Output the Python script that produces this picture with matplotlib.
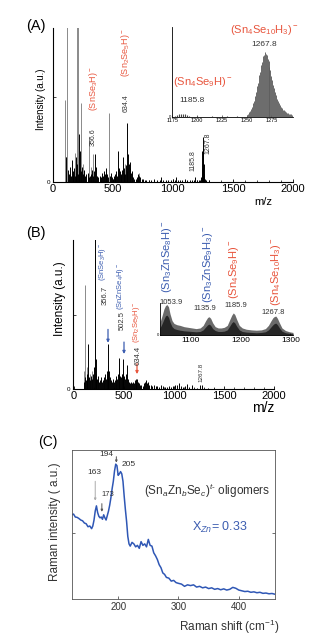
import numpy as np
import matplotlib
matplotlib.use('Agg')
import matplotlib.pyplot as plt
from matplotlib.ticker import MultipleLocator

plt.rcParams['font.family'] = ['Liberation Sans', 'DejaVu Sans']
plt.rcParams['mathtext.fontset'] = 'custom'
plt.rcParams['mathtext.rm'] = 'Liberation Sans'
plt.rcParams['mathtext.it'] = 'Liberation Sans:italic'
plt.rcParams['mathtext.bf'] = 'Liberation Sans:bold'
plt.rcParams['xtick.direction'] = 'in'
plt.rcParams['ytick.direction'] = 'in'

W, H = 322, 638
RED = '#e8553d'
BLUE = '#3c5db0'
NUM = '#333333'

# ---------------- (A) mass spectrum ----------------
gray_A_mz = [103, 108, 122, 186, 200, 214, 233, 255, 303, 320, 339, 469, 600, 720]
gray_A_h = [0.53, 0.16, 1.05, 0.19, 1.05, 1.05, 0.51, 0.12, 0.29, 0.10, 0.18, 0.45, 0.12, 0.06]

black_A_mz = [110, 130, 138, 145, 152, 158, 165, 172, 178, 185,
              192, 198, 205, 210, 218, 222, 228, 236, 242, 250,
              262, 270, 280, 290, 298, 310, 318, 330, 338, 345,
              353, 360, 368, 378, 390, 400, 410, 418, 425, 432,
              440, 445, 452, 460, 476, 483, 490, 500, 508, 515,
              522, 530, 538, 547, 553, 560, 566, 572, 578, 583,
              590, 595, 602, 608, 615, 622, 628, 633, 640, 644,
              650, 656, 663, 670, 680, 690, 700, 708, 714, 722,
              730, 740, 752, 765, 780, 800, 820, 845, 870, 890,
              905, 920, 940, 960, 985, 1000, 1015, 1025, 1040, 1060,
              1080, 1100, 1120, 1140, 1160, 1175, 1185, 1200, 1215, 1230,
              1238, 1242, 1246, 1250, 1254, 1258, 1262, 1268, 1280, 1300]
black_A_h = [0.16, 0.08, 0.05, 0.10, 0.04, 0.14, 0.05, 0.07, 0.09, 0.04,
             0.16, 0.06, 0.12, 0.05, 0.08, 0.31, 0.20, 0.07, 0.10, 0.05,
             0.08, 0.04, 0.05, 0.06, 0.03, 0.04, 0.05, 0.08, 0.04, 0.07,
             0.18, 0.10, 0.04, 0.03, 0.04, 0.03, 0.06, 0.04, 0.07, 0.05,
             0.09, 0.06, 0.05, 0.03, 0.04, 0.06, 0.03, 0.02, 0.04, 0.03,
             0.05, 0.07, 0.04, 0.20, 0.09, 0.07, 0.05, 0.04, 0.08, 0.16,
             0.06, 0.09, 0.05, 0.11, 0.07, 0.38, 0.18, 0.12, 0.09, 0.13,
             0.06, 0.07, 0.04, 0.03, 0.02, 0.02, 0.03, 0.02, 0.05, 0.04,
             0.03, 0.02, 0.02, 0.015, 0.01, 0.015, 0.01, 0.02, 0.01, 0.015,
             0.03, 0.01, 0.015, 0.01, 0.015, 0.02, 0.01, 0.035, 0.01, 0.015,
             0.01, 0.02, 0.01, 0.015, 0.01, 0.015, 0.03, 0.01, 0.01, 0.015,
             0.03, 0.09, 0.20, 0.29, 0.22, 0.12, 0.05, 0.02, 0.01, 0.01]

# inset of (A): isotope envelope around 1267.8 and small 1185.8 bump
insA_mz = list(range(1250, 1297))
insA_h = [0.02, 0.03, 0.05, 0.06, 0.09, 0.11, 0.15, 0.17, 0.23, 0.27,
          0.34, 0.38, 0.46, 0.50, 0.58, 0.61, 0.68, 0.69, 0.72, 0.70,
          0.69, 0.64, 0.62, 0.55, 0.52, 0.45, 0.41, 0.35, 0.32, 0.27,
          0.24, 0.20, 0.18, 0.15, 0.13, 0.11, 0.10, 0.08, 0.07, 0.06,
          0.05, 0.045, 0.04, 0.035, 0.03, 0.025, 0.02]
insA_small_mz = [1178, 1180, 1182, 1184, 1186, 1188, 1190, 1192, 1200, 1215, 1230, 1240]
insA_small_h = [0.01, 0.02, 0.03, 0.035, 0.035, 0.03, 0.02, 0.01, 0.008, 0.01, 0.008, 0.01]

# ---------------- (B) mass spectrum ----------------
gray_B_mz = [100, 110, 125, 160, 180, 205, 240, 300, 330, 420, 450, 480]
gray_B_h = [0.12, 0.70, 0.15, 0.10, 0.12, 0.90, 0.08, 0.07, 0.10, 0.08, 0.12, 0.10]

black_B_mz = [95, 105, 115, 125, 133, 143, 150, 160, 170, 180,
              190, 200, 210, 215, 222, 232, 240, 250, 262, 270,
              280, 292, 300, 310, 320, 330, 336, 343, 350, 358,
              365, 375, 385, 395, 405, 415, 425, 435, 445, 453,
              460, 470, 478, 486, 493, 500, 510, 520, 527, 535,
              545, 555, 565, 575, 585, 595, 605, 615, 622, 627,
              635, 645, 655, 670, 685, 700, 710, 720, 728, 740,
              750, 765, 780, 800, 815, 830, 850, 870, 890, 910,
              930, 950, 970, 990, 1010, 1030, 1050, 1070, 1090, 1110,
              1130, 1150, 1180, 1200, 1230, 1260, 1277, 1300, 1340, 1400]
black_B_h = [0.05, 0.08, 0.06, 0.10, 0.07, 0.30, 0.08, 0.06, 0.09, 0.07,
             0.10, 0.15, 1.05, 0.20, 0.10, 0.07, 0.09, 0.05, 0.06, 0.08,
             0.05, 0.06, 0.08, 0.10, 0.07, 0.12, 0.16, 0.30, 0.12, 0.08,
             0.06, 0.05, 0.07, 0.05, 0.06, 0.09, 0.07, 0.10, 0.14, 0.21,
             0.09, 0.08, 0.10, 0.12, 0.20, 0.09, 0.07, 0.10, 0.16, 0.07,
             0.05, 0.04, 0.05, 0.04, 0.05, 0.04, 0.06, 0.05, 0.07, 0.07,
             0.05, 0.04, 0.03, 0.03, 0.02, 0.04, 0.05, 0.06, 0.04, 0.05,
             0.03, 0.03, 0.02, 0.03, 0.02, 0.02, 0.015, 0.025, 0.02, 0.015,
             0.015, 0.02, 0.015, 0.02, 0.025, 0.03, 0.04, 0.02, 0.015, 0.02,
             0.035, 0.015, 0.03, 0.01, 0.01, 0.025, 0.03, 0.01, 0.008, 0.005]

# inset of (B): 1040-1305 region, outer envelope and dark core
insB_mz = [1040, 1044, 1048, 1051, 1054, 1057, 1060, 1064, 1068, 1074,
           1080, 1088, 1096, 1104, 1112, 1120, 1126, 1131, 1135, 1138,
           1141, 1145, 1150, 1156, 1162, 1168, 1174, 1179, 1183, 1186,
           1189, 1193, 1198, 1204, 1212, 1222, 1232, 1242, 1250, 1256,
           1261, 1265, 1268, 1271, 1274, 1278, 1283, 1290, 1298, 1305]
insB_outer = [0.40, 0.60, 0.82, 0.92, 0.95, 0.88, 0.66, 0.45, 0.36, 0.32,
              0.30, 0.26, 0.24, 0.22, 0.20, 0.22, 0.30, 0.45, 0.55, 0.57,
              0.52, 0.38, 0.26, 0.22, 0.22, 0.24, 0.30, 0.48, 0.62, 0.69,
              0.64, 0.48, 0.30, 0.22, 0.18, 0.16, 0.15, 0.16, 0.20, 0.30,
              0.44, 0.54, 0.58, 0.59, 0.52, 0.38, 0.22, 0.14, 0.10, 0.08]
insB_inner = [0.22, 0.35, 0.50, 0.60, 0.62, 0.55, 0.40, 0.26, 0.20, 0.17,
              0.15, 0.13, 0.12, 0.11, 0.10, 0.11, 0.16, 0.25, 0.32, 0.34,
              0.30, 0.20, 0.14, 0.11, 0.11, 0.12, 0.16, 0.28, 0.38, 0.42,
              0.38, 0.27, 0.16, 0.11, 0.09, 0.08, 0.07, 0.08, 0.10, 0.16,
              0.25, 0.32, 0.36, 0.37, 0.32, 0.22, 0.12, 0.07, 0.05, 0.04]

# ---------------- (C) Raman ----------------
raman_shift = [123, 126, 129, 132, 135, 138, 141, 144, 147, 150,
               153, 156, 158, 160, 162, 164, 166, 168, 170, 172,
               174, 176, 178, 180, 182, 184, 186, 188, 190, 192,
               194, 196, 198, 200, 202, 204, 206, 208, 210, 212,
               214, 216, 218, 220, 223, 226, 229, 232, 235, 238,
               241, 244, 247, 250, 253, 256, 259, 262, 265, 268,
               271, 274, 277, 280, 284, 288, 292, 296, 300, 305,
               310, 315, 320, 325, 330, 335, 340, 345, 350, 355,
               360, 365, 370, 375, 380, 385, 390, 395, 400, 405,
               410, 415, 420, 425, 430, 435, 440, 445, 450, 455,
               460]
raman_int = [0.565, 0.57, 0.55, 0.548, 0.54, 0.53, 0.525, 0.51, 0.505, 0.485,
             0.49, 0.472, 0.49, 0.53, 0.59, 0.625, 0.58, 0.555, 0.545, 0.55,
             0.535, 0.565, 0.545, 0.53, 0.56, 0.59, 0.63, 0.68, 0.74, 0.79,
             0.86, 0.905, 0.895, 0.83, 0.84, 0.855, 0.84, 0.79, 0.69, 0.60,
             0.52, 0.42, 0.37, 0.355, 0.38, 0.37, 0.35, 0.36, 0.34, 0.385,
             0.36, 0.37, 0.35, 0.40, 0.36, 0.355, 0.31, 0.29, 0.265, 0.23,
             0.21, 0.175, 0.165, 0.145, 0.14, 0.12, 0.125, 0.11, 0.105, 0.10,
             0.085, 0.095, 0.09, 0.095, 0.08, 0.085, 0.075, 0.08, 0.07, 0.075,
             0.065, 0.07, 0.062, 0.068, 0.06, 0.065, 0.078, 0.072, 0.06, 0.055,
             0.05, 0.052, 0.045, 0.048, 0.042, 0.045, 0.038, 0.04, 0.035, 0.037,
             0.032]


fig = plt.figure(figsize=(W / 100, H / 100), dpi=100)


def AddAxes(left, top, right, bottom):
    # box given in pixels of the final picture
    return fig.add_axes([left / W, 1 - bottom / H, (right - left) / W, (bottom - top) / H])


def FigText(px, py, s, **kw):
    kw.setdefault('ha', 'center')
    kw.setdefault('va', 'center')
    fig.text(px / W, 1 - py / H, s, **kw)


def OpenAxes(ax, lw=0.8):
    ax.spines['top'].set_visible(False)
    ax.spines['right'].set_visible(False)
    ax.spines['left'].set_linewidth(lw)
    ax.spines['bottom'].set_linewidth(lw)


# ---- (A) ----
axA = AddAxes(52.7, 28, 293, 182)
axA.vlines(gray_A_mz, 0, gray_A_h, color='#8a8a8a', lw=0.7)
axA.vlines(black_A_mz, 0, black_A_h, color='black', lw=0.7)
axA.set_xlim(0, 2000)
axA.set_ylim(0, 1)
OpenAxes(axA)
axA.xaxis.set_major_locator(MultipleLocator(500))
axA.xaxis.set_minor_locator(MultipleLocator(100))
axA.set_yticks([0, 0.55])
axA.set_yticklabels(['0', ''])
axA.tick_params(axis='x', which='major', labelsize=8, length=2.5, width=0.6, pad=1.5)
axA.tick_params(axis='x', which='minor', length=1.5, width=0.5)
axA.tick_params(axis='y', labelsize=4.5, length=2, width=0.5, pad=1.5)

FigText(36, 26, '(A)', fontsize=10.5)
FigText(41, 99, 'Intensity (a.u.)', fontsize=7, rotation=90)
FigText(263, 202, 'm/z', fontsize=8)
FigText(93, 89, r'(SnSe$_3$H)$^-$', fontsize=6.5, color=RED, rotation=90)
FigText(93, 137, '356.6', fontsize=5, color=NUM, rotation=90)
FigText(126, 53, r'(Sn$_2$Se$_5$H)$^-$', fontsize=6.5, color=RED, rotation=90)
FigText(126, 103, '634.4', fontsize=5, color=NUM, rotation=90)
FigText(193, 161, '1185.8', fontsize=5, color=NUM, rotation=90)
FigText(208, 143, '1267.8', fontsize=5, color=NUM, rotation=90)

axIA = AddAxes(172.3, 27, 293.3, 116.7)
axIA.vlines(insA_mz, 0, insA_h, color='#5e5e5e', lw=0.65)
axIA.vlines(insA_small_mz, 0, insA_small_h, color='#444444', lw=0.8)
axIA.set_xlim(1175, 1297)
axIA.set_ylim(0, 1)
OpenAxes(axIA, lw=0.6)
axIA.set_xticks([1175, 1200, 1225, 1250, 1275])
axIA.set_yticks([0])
axIA.tick_params(axis='x', labelsize=4, length=1.5, width=0.4, pad=1)
axIA.tick_params(axis='y', labelsize=3, length=1, width=0.4, pad=0.5)
axIA.patch.set_alpha(0)

FigText(264, 30, r'(Sn$_4$Se$_{10}$H$_3$)$^-$', fontsize=8, color=RED)
FigText(264, 45, '1267.8', fontsize=6, color=NUM)
FigText(203, 82, r'(Sn$_4$Se$_9$H)$^-$', fontsize=8, color=RED)
FigText(192, 100, '1185.8', fontsize=6, color=NUM)

# ---- (B) ----
axB = AddAxes(72.7, 240, 274, 389)
axB.vlines(gray_B_mz, 0, gray_B_h, color='#8a8a8a', lw=0.7)
axB.vlines(black_B_mz, 0, black_B_h, color='black', lw=0.7)
axB.set_xlim(-13, 2000)
axB.set_ylim(0, 1)
OpenAxes(axB)
axB.xaxis.set_major_locator(MultipleLocator(500))
axB.xaxis.set_minor_locator(MultipleLocator(100))
axB.set_yticks([0, 0.5])
axB.set_yticklabels(['0', ''])
axB.tick_params(axis='x', which='major', labelsize=8, length=2.5, width=0.6, pad=1.5)
axB.tick_params(axis='x', which='minor', length=1.5, width=0.5)
axB.tick_params(axis='y', labelsize=4.5, length=2, width=0.5, pad=1.5)

FigText(36, 233, '(B)', fontsize=10.5)
FigText(60, 299, 'Intensity (a.u.)', fontsize=8.5, rotation=90)
FigText(263, 408, 'm/z', fontsize=10)
FigText(103, 262, r'(SnSe$_3$H)$^-$', fontsize=5.5, color=BLUE, rotation=90)
FigText(105, 295, '356.7', fontsize=5.5, color=NUM, rotation=90)
FigText(120, 286, r'(SnZnSe$_4$H)$^-$', fontsize=5.5, color=BLUE, rotation=90)
FigText(122, 321, '502.5', fontsize=5.5, color=NUM, rotation=90)
FigText(137, 322, r'(Sn$_2$Se$_5$H)$^-$', fontsize=5.5, color=RED, rotation=90)
FigText(138, 355, '634.4', fontsize=5.5, color=NUM, rotation=90)
FigText(201, 372, '1267.8', fontsize=4.5, color=NUM, rotation=90)

arr_B = [(340, 0.40, 0.31, BLUE), (500, 0.315, 0.235, BLUE), (630, 0.17, 0.10, RED)]
for x0, y_top, y_tip, col in arr_B:
    axB.annotate('', xy=(x0, y_tip), xytext=(x0, y_top),
                 arrowprops=dict(arrowstyle='-|>', color=col, lw=0.9,
                                 mutation_scale=4, shrinkA=0, shrinkB=0))

axIB = AddAxes(160, 303, 293, 335)
axIB.fill_between(insB_mz, 0, insB_outer, color='#6a6a6a', lw=0)
axIB.fill_between(insB_mz, 0, insB_inner, color='#262626', lw=0)
axIB.set_xlim(1040, 1305)
axIB.set_ylim(0, 1)
OpenAxes(axIB, lw=0.6)
axIB.set_xticks([1100, 1200, 1300])
axIB.set_yticks([0])
axIB.tick_params(axis='x', labelsize=6, length=1.5, width=0.4, pad=1.5)
axIB.tick_params(axis='y', labelsize=3, length=1, width=0.4, pad=0.5)
axIB.patch.set_alpha(0)

FigText(167, 257, r'(Sn$_3$ZnSe$_8$H)$^-$', fontsize=8, color=BLUE, rotation=90)
FigText(208, 264, r'(Sn$_3$ZnSe$_9$H$_3$)$^-$', fontsize=8, color=BLUE, rotation=90)
FigText(234, 269, r'(Sn$_4$Se$_9$H)$^-$', fontsize=8, color=RED, rotation=90)
FigText(276, 272, r'(Sn$_4$Se$_{10}$H$_3$)$^-$', fontsize=8, color=RED, rotation=90)
FigText(171, 302, '1053.9', fontsize=5.5, color=NUM)
FigText(205, 308, '1135.9', fontsize=5.5, color=NUM)
FigText(236, 306, '1185.9', fontsize=5.5, color=NUM)
FigText(273, 312, '1267.8', fontsize=5.5, color=NUM)

# ---- (C) ----
axC = AddAxes(71.7, 450, 275, 599)
axC.plot(raman_shift, raman_int, color='#2f57b5', lw=1.1)
axC.set_xlim(123, 460)
axC.set_ylim(0, 1)
for s in axC.spines.values():
    s.set_linewidth(0.6)
    s.set_color('#555555')
axC.set_xticks([200, 300, 400])
axC.set_yticks([0.44])
axC.set_yticklabels([])
axC.tick_params(axis='both', labelsize=7, length=2.5, width=0.5, pad=2, right=True,
                colors='#333333')

FigText(48, 442, '(C)', fontsize=10)
FigText(55, 522, 'Raman intensity ( a.u.)', fontsize=8.5, rotation=90, color='#333333')
FigText(229, 627, r'Raman shift (cm$^{-1}$)', fontsize=8.5, color='#333333')
FigText(94, 473, '163', fontsize=6, color=NUM)
FigText(108, 495, '173', fontsize=5.5, color=NUM)
FigText(106, 455, '194', fontsize=6, color=NUM)
FigText(129, 464, '205', fontsize=6, color=NUM)
FigText(207, 491, r'(Sn$_a$Zn$_b$Se$_c$)$^{t\text{-}}$ oligomers', fontsize=8.5, color='#333333')
FigText(220, 527, r'X$_{Zn}$= 0.33', fontsize=9, color=BLUE)

arr_C = [(162, 0.79, 0.66, '#aaaaaa'), (173, 0.64, 0.585, '#555555'), (197, 0.955, 0.915, '#555555')]
for x0, y_top, y_tip, col in arr_C:
    axC.annotate('', xy=(x0, y_tip), xytext=(x0, y_top),
                 arrowprops=dict(arrowstyle='-|>', color=col, lw=0.7,
                                 mutation_scale=3, shrinkA=0, shrinkB=0))

fig.savefig('out.png', dpi=100)
